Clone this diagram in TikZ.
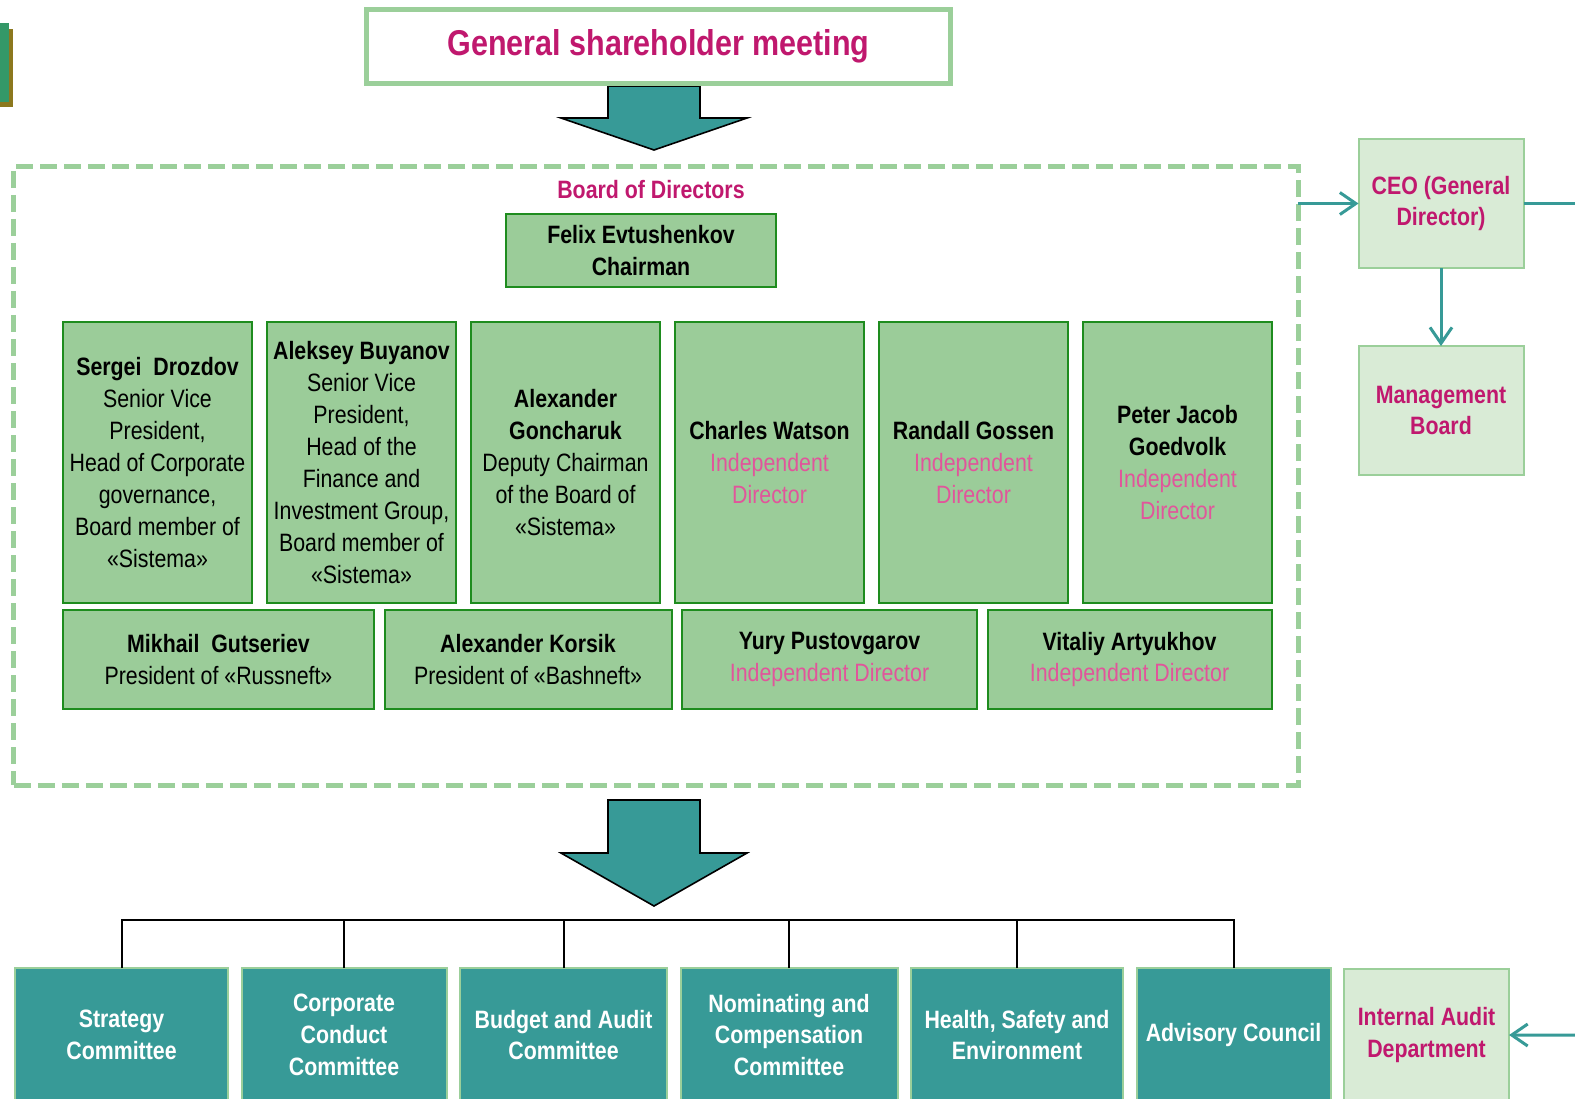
\documentclass[tikz,border=0pt]{standalone}
\usepackage{fontspec}
\setmainfont{Liberation Sans}[FakeStretch=0.85]
\usetikzlibrary{positioning, arrows.meta, calc}
\usepackage{xcolor}
\definecolor{ssTeal}{RGB}{55, 154, 151}
\definecolor{ssPaleGreen}{RGB}{155, 207, 154}
\definecolor{ssBoxGreen}{RGB}{155, 204, 153}
\definecolor{ssDarkGreen}{RGB}{30, 140, 30}
\definecolor{ssMagenta}{RGB}{192, 24, 110}
\definecolor{ssPink}{RGB}{225, 85, 155}
\definecolor{ssPale}{RGB}{217, 235, 214}
\definecolor{ssLogoGreen}{RGB}{52, 152, 104}
\definecolor{ssLogoOlive}{RGB}{140, 120, 30}

\begin{document}
\begin{tikzpicture}[
    x=0.5bp, y=-0.5bp,
    font=\fontsize{12.6}{16}\selectfont,
    titlebox/.style={
        rectangle,
        minimum width=292bp,
        minimum height=37bp,
        inner sep=0pt,
        outer sep=0pt,
        draw=ssPaleGreen,
        fill=white,
        text=ssMagenta,
        font=\fontsize{18}{22}\selectfont\bfseries,
        line width=2.5bp
    },
    boardframe/.style={
        rectangle,
        minimum width=642bp,
        minimum height=309.5bp,
        inner sep=0pt,
        outer sep=0pt,
        draw=ssPaleGreen,
        dash pattern=on 8.5bp off 3.5bp,
        line width=2.5bp
    },
    member/.style={
        rectangle,
        minimum width=94.5bp,
        minimum height=140.5bp,
        inner sep=0pt,
        outer sep=0pt,
        align=center,
        draw=ssDarkGreen,
        fill=ssBoxGreen,
        line width=1bp
    },
    memberwide/.style={
        rectangle,
        minimum height=49.5bp,
        inner sep=0pt,
        outer sep=0pt,
        align=center,
        draw=ssDarkGreen,
        fill=ssBoxGreen,
        line width=1bp
    },
    committee/.style={
        rectangle,
        minimum height=67bp,
        inner sep=0pt,
        outer sep=0pt,
        align=center,
        draw=ssPaleGreen,
        fill=ssTeal,
        text=white,
        font=\fontsize{12.6}{16}\selectfont\bfseries,
        line width=1bp
    },
    execbox/.style={
        rectangle,
        minimum width=82.5bp,
        minimum height=64.5bp,
        inner sep=0pt,
        outer sep=0pt,
        align=center,
        draw=ssPaleGreen,
        fill=ssPale,
        text=ssMagenta,
        font=\fontsize{12.6}{16}\selectfont\bfseries,
        line width=1bp
    },
    flowarrow/.style={
        draw=ssTeal,
        line width=1.5bp,
        -{Straight Barb[length=8bp, width=11bp]}
    },
    flowline/.style={draw=ssTeal, line width=1.5bp},
    busline/.style={draw=black, line width=1bp},
    blockarrow/.style={draw=black, fill=ssTeal, line width=0.8bp}
]

\useasboundingbox (0,0) rectangle (1575,1098);
\clip (0,0) rectangle (1575,1098);

% Corner mark
\fill[ssLogoOlive] (0,29) rectangle (13,107);
\fill[ssLogoGreen] (0,23) rectangle (9,102);

% Block arrows
\coordinate (arrowtopA) at (654,86);
\coordinate (arrowtopB) at (654,800);
\draw[blockarrow] ($(arrowtopA)+(-46,0)$) -- ++(0,32) -- ++(-47,0) -- ++(93,32) -- ++(93,-32) -- ++(-47,0) -- ++(0,-32) -- cycle;
\draw[blockarrow] ($(arrowtopB)+(-46,0)$) -- ++(0,53) -- ++(-47,0) -- ++(93,53) -- ++(93,-53) -- ++(-47,0) -- ++(0,-53) -- cycle;

% Title
\node[titlebox] (gsm) at (658.5,46.5) {General shareholder meeting};

% Board of Directors
\node[boardframe] (board) at (656,475.5) {};
\node[font=\fontsize{12.6}{16}\selectfont\bfseries, text=ssMagenta] (bodlabel) at (651,190) {Board of Directors};
\node[member, minimum width=135bp, minimum height=36.5bp] (chairman) at (641,250.5) {\textbf{Felix Evtushenkov}\\\textbf{Chairman}};

% Top row of members
\node[member] (drozdov) at (157.5,462.5) {
    \textbf{Sergei~ Drozdov}\\Senior Vice\\President,\\Head of Corporate\\governance,\\Board member of\\«Sistema»
};
\node[member, right=7.5bp of drozdov] (buyanov) {
    \textbf{Aleksey Buyanov}\\Senior Vice\\President,\\Head of the\\Finance and\\Investment Group,\\Board member of\\«Sistema»
};
\node[member, right=7.5bp of buyanov] (goncharuk) {
    \textbf{Alexander}\\\textbf{Goncharuk}\\Deputy Chairman\\of the Board of\\«Sistema»
};
\node[member, right=7.5bp of goncharuk] (watson) {
    \textbf{Charles Watson}\\\textcolor{ssPink}{Independent}\\\textcolor{ssPink}{Director}
};
\node[member, right=7.5bp of watson] (gossen) {
    \textbf{Randall Gossen}\\\textcolor{ssPink}{Independent}\\\textcolor{ssPink}{Director}
};
\node[member, right=7.5bp of gossen] (goedvolk) {
    \textbf{Peter Jacob}\\\textbf{Goedvolk}\\\textcolor{ssPink}{Independent}\\\textcolor{ssPink}{Director}
};

% Bottom row of members
\node[memberwide, minimum width=155.5bp, below=3.5bp of drozdov.south west, anchor=north west] (gutseriev) {
    \textbf{Mikhail~ Gutseriev}\\President of «Russneft»
};
\node[memberwide, minimum width=143.5bp, right=5.25bp of gutseriev] (korsik) {
    \textbf{Alexander Korsik}\\President of «Bashneft»
};
\node[memberwide, minimum width=147.5bp, right=5.25bp of korsik] (pustovgarov) {
    \textbf{Yury Pustovgarov}\\\textcolor{ssPink}{Independent Director}
};
\node[memberwide, minimum width=142bp, right=5.25bp of pustovgarov] (artyukhov) {
    \textbf{Vitaliy Artyukhov}\\\textcolor{ssPink}{Independent Director}
};

% Executive side
\node[execbox] (ceo) at (1441,203.5) {CEO (General\\Director)};
\node[execbox, below=39bp of ceo] (mgmt) {Management\\Board};
\coordinate (ceoout) at (1600,203.5);

% Committees
\node[committee, minimum width=106.5bp, anchor=north west] (strategy) at (15,968) {Strategy\\Committee};
\node[committee, minimum width=102.5bp, right=6.75bp of strategy] (conduct) {Corporate\\Conduct\\Committee};
\node[committee, minimum width=103.5bp, right=6.75bp of conduct] (budget) {Budget and Audit\\Committee};
\node[committee, minimum width=108.5bp, right=6.75bp of budget] (nominating) {Nominating and\\Compensation\\Committee};
\node[committee, minimum width=106bp, right=6.75bp of nominating] (hse) {Health, Safety and\\Environment};
\node[committee, minimum width=97bp, right=6.75bp of hse] (advisory) {Advisory Council};
\node[execbox, minimum height=66bp, right=6.75bp of advisory] (audit) {Internal Audit\\Department};
\coordinate (auditin) at (1600,1035);

% Connectors
\draw[flowarrow] (ceo.west -| board.east) -- (ceo.west);
\draw[flowline] (ceo.east) -- (ceoout);
\draw[flowarrow] (ceo.south) -- (mgmt.north);
\draw[flowarrow] (auditin) -- (audit.east);

\coordinate (bus) at (0,920);
\draw[busline] (strategy.north) -- (strategy.north |- bus) -- (advisory.north |- bus) -- (advisory.north);
\foreach \c in {conduct, budget, nominating, hse}
    \draw[busline] (\c.north) -- (\c.north |- bus);

\end{tikzpicture}
\end{document}
